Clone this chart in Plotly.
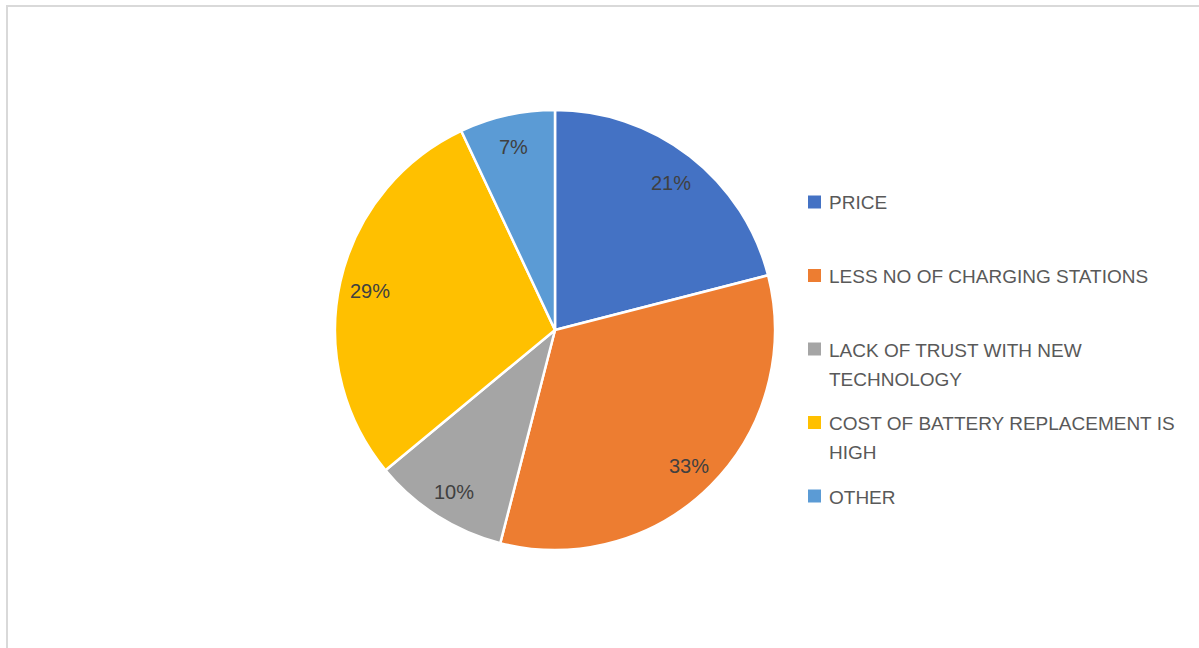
import math
import textwrap
import plotly.graph_objects as go

# Survey: main barriers to adopting electric vehicles
categories = [
    "PRICE",
    "LESS NO OF CHARGING STATIONS",
    "LACK OF TRUST WITH NEW TECHNOLOGY",
    "COST OF BATTERY REPLACEMENT IS HIGH",
    "OTHER",
]
shares = [21, 33, 10, 29, 7]
colors = ["#4472C4", "#ED7D31", "#A5A5A5", "#FFC000", "#5B9BD5"]

W, H = 1199, 648

# pie placement (pixels)
cx, cy, r = 555, 330, 220


def px(x):
    return x / W


def py(y):
    return 1 - y / H


fig = go.Figure(
    go.Pie(
        labels=categories,
        values=shares,
        sort=False,
        direction="clockwise",
        rotation=0,
        marker=dict(colors=colors, line=dict(color="white", width=2.5)),
        textinfo="none",
        hoverinfo="label+percent",
        showlegend=False,
        domain=dict(x=[px(cx - r), px(cx + r)], y=[py(cy + r), py(cy - r)]),
    )
)

annotations = []
shapes = []

# percentage labels placed along each slice's mid-angle
total = sum(shares)
start = 0.0
for v in shares:
    mid = (start + v / 2) / total * 2 * math.pi
    start += v
    lx = cx + 0.86 * r * math.sin(mid)
    ly = cy - 0.86 * r * math.cos(mid) + 2
    annotations.append(dict(
        x=px(lx), y=py(ly), xref="paper", yref="paper",
        text=f"{round(v / total * 100)}%", showarrow=False,
        font=dict(family="Liberation Sans, Arial, sans-serif", size=20, color="#404040"),
        xanchor="center", yanchor="middle",
    ))

# legend on the right: colour square + wrapped label
leg_x, leg_y0, leg_step, line_gap = 808, 202, 73.5, 29
for i, (name, col) in enumerate(zip(categories, colors)):
    y = leg_y0 + i * leg_step
    shapes.append(dict(
        type="rect", xref="paper", yref="paper",
        x0=px(leg_x), x1=px(leg_x + 13), y0=py(y + 6.5), y1=py(y - 6.5),
        fillcolor=col, line=dict(width=0),
    ))
    for j, line in enumerate(textwrap.wrap(name, 30)):
        annotations.append(dict(
            x=px(leg_x + 19), y=py(y + j * line_gap + 1), xref="paper", yref="paper",
            text=line, showarrow=False,
            font=dict(family="Liberation Sans, Arial, sans-serif", size=19, color="#595959"),
            xanchor="left", yanchor="middle",
        ))

# chart-area border
shapes.append(dict(
    type="rect", xref="paper", yref="paper",
    x0=px(7), x1=px(1210), y0=py(660), y1=py(6),
    line=dict(color="#D9D9D9", width=2), fillcolor="rgba(0,0,0,0)", layer="below",
))

fig.update_layout(
    width=W, height=H,
    margin=dict(l=0, r=0, t=0, b=0),
    paper_bgcolor="white",
    plot_bgcolor="white",
    annotations=annotations,
    shapes=shapes,
)

fig.write_html("out.html")
